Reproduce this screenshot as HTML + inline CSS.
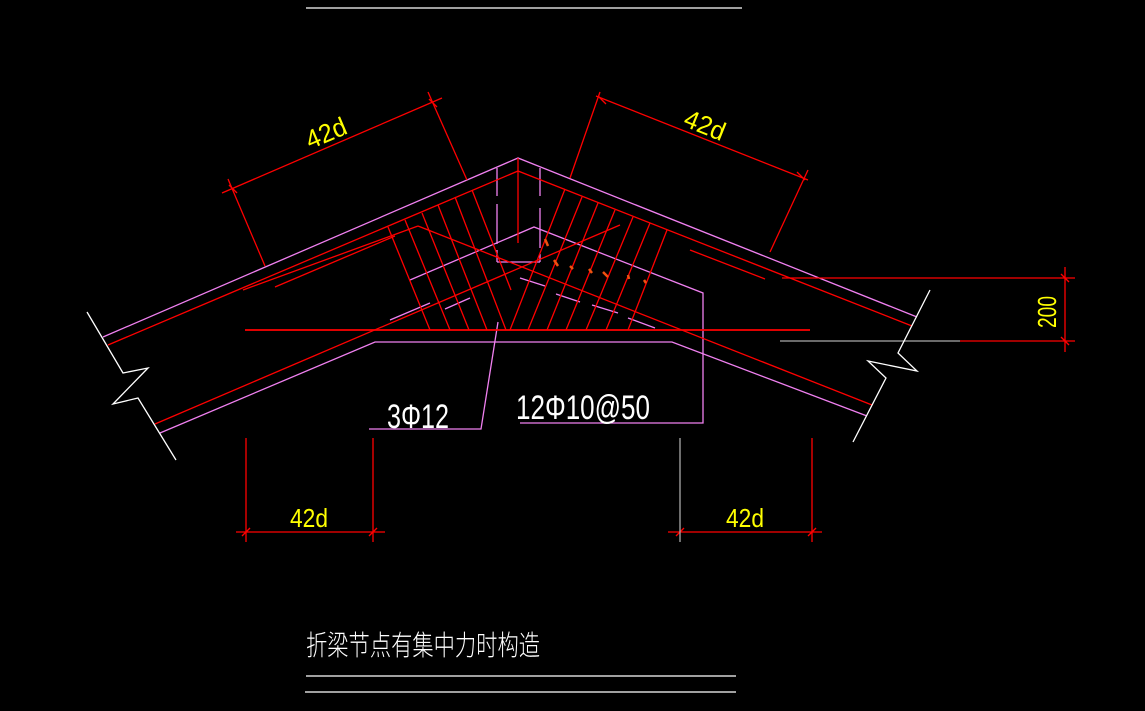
<!DOCTYPE html>
<html><head><meta charset="utf-8"><style>
html,body{margin:0;padding:0;background:#000;width:1145px;height:711px;overflow:hidden}
svg{display:block}
text{font-family:"Liberation Sans Narrow","Liberation Sans",sans-serif}
</style></head><body>
<svg width="1145" height="711" viewBox="0 0 1145 711" xmlns="http://www.w3.org/2000/svg">
<g fill="none" stroke-width="1.3">
<line x1="306" y1="8" x2="742" y2="8" stroke="#fff"/>
<line x1="306" y1="676" x2="736" y2="676" stroke="#fff"/>
<line x1="305" y1="692" x2="736" y2="692" stroke="#fff"/>

<polyline points="103,337 518,158 917,317" stroke="#f080f0"/>
<polyline points="160,433 375,342 672,342 867,416" stroke="#f080f0"/>
<polyline points="410,280 534,227 703,293 703,423 520,423" stroke="#f080f0"/>
<line x1="497" y1="168" x2="497" y2="262" stroke="#f080f0" stroke-dasharray="28,8,40,6"/>
<line x1="540" y1="168" x2="540" y2="262" stroke="#f080f0" stroke-dasharray="28,12,40,6"/>
<line x1="497" y1="262" x2="540" y2="262" stroke="#f080f0"/>
<line x1="390" y1="320" x2="430" y2="303" stroke="#f080f0"/>
<line x1="445" y1="309" x2="470" y2="298" stroke="#f080f0"/>
<line x1="520" y1="278" x2="545" y2="286" stroke="#f080f0"/>
<line x1="556" y1="294" x2="580" y2="302" stroke="#f080f0"/>
<line x1="592" y1="305" x2="618" y2="313" stroke="#f080f0"/>
<line x1="628" y1="318" x2="655" y2="328" stroke="#f080f0"/>
<polyline points="498,322 481,429 369,429" stroke="#f080f0"/>

<g stroke="#f00">
<polyline points="108,345 518,171 912,326"/>
<line x1="518" y1="158" x2="518" y2="243"/>
<line x1="243" y1="290" x2="418" y2="226"/>
<line x1="418" y1="226" x2="872" y2="405"/>
<line x1="155" y1="424" x2="620" y2="225"/>
<line x1="690" y1="250" x2="765" y2="279"/>
<line x1="275" y1="287" x2="395" y2="236"/>
<line x1="245" y1="330" x2="810" y2="330" stroke-width="1.8"/>
<line x1="388" y1="227" x2="430" y2="330"/>
<line x1="405" y1="220" x2="450" y2="330"/>
<line x1="422" y1="213" x2="469" y2="330"/>
<line x1="438" y1="205" x2="487" y2="330"/>
<line x1="455" y1="197" x2="506" y2="330"/>
<line x1="472" y1="190" x2="511" y2="290"/>
<line x1="565" y1="189" x2="510" y2="330"/>
<line x1="582" y1="197" x2="528" y2="330"/>
<line x1="598" y1="203" x2="547" y2="330"/>
<line x1="615" y1="210" x2="566" y2="330"/>
<line x1="633" y1="217" x2="586" y2="330"/>
<line x1="650" y1="223" x2="606" y2="330"/>
<line x1="667" y1="230" x2="628" y2="330"/>
<line x1="222" y1="193" x2="442" y2="98"/>
<line x1="228" y1="179" x2="265" y2="266"/>
<line x1="428" y1="92" x2="467" y2="180"/>
<line x1="596" y1="96" x2="808" y2="180"/>
<line x1="600" y1="92" x2="570" y2="178"/>
<line x1="808" y1="170" x2="770" y2="252"/>
<line x1="782" y1="278" x2="1075" y2="278"/>
<line x1="960" y1="341" x2="1075" y2="341"/>
<line x1="1065" y1="267" x2="1065" y2="352"/>
<line x1="246" y1="438" x2="246" y2="542"/>
<line x1="373" y1="438" x2="373" y2="542"/>
<line x1="236" y1="532" x2="385" y2="532"/>
<line x1="812" y1="438" x2="812" y2="542"/>
<line x1="668" y1="532" x2="822" y2="532"/>
<line x1="229" y1="185" x2="237" y2="193"/>
<line x1="429" y1="99" x2="437" y2="107"/>
<line x1="598" y1="96" x2="606" y2="104"/>
<line x1="797" y1="172" x2="805" y2="180"/>
<line x1="1061" y1="274" x2="1069" y2="282"/>
<line x1="1061" y1="337" x2="1069" y2="345"/>
<line x1="242" y1="536" x2="250" y2="528"/>
<line x1="369" y1="536" x2="377" y2="528"/>
<line x1="676" y1="536" x2="684" y2="528"/>
<line x1="808" y1="536" x2="816" y2="528"/>
</g>
<line x1="780" y1="341" x2="960" y2="341" stroke="#aaa"/>
<line x1="680" y1="438" x2="680" y2="542" stroke="#aaa"/>

<polyline points="87,312 123,373 148,368 113,404 138,398 176,460" stroke="#fff"/>
<polyline points="930,290 898,353 917,371 868,361 886,378 853,442" stroke="#fff"/>
</g>
<g stroke="#f05010" stroke-width="2.5" fill="none">
<path d="M545,239 l3,7"/><path d="M554,260 l4,6"/><path d="M570,266 l3,3"/>
<path d="M589,269 l3,4"/><path d="M603,272 l5,5"/><path d="M628,275 l1,4"/><path d="M644,280 l2,3"/>
</g>
<g fill="#ff0" font-size="26">
<text x="326" y="142" text-anchor="middle" transform="rotate(-23 326 133)" textLength="42" lengthAdjust="spacingAndGlyphs">42d</text>
<text x="705" y="134" text-anchor="middle" transform="rotate(22 705 125)" textLength="42" lengthAdjust="spacingAndGlyphs">42d</text>
<text x="309" y="527" text-anchor="middle" textLength="38" lengthAdjust="spacingAndGlyphs">42d</text>
<text x="745" y="527" text-anchor="middle" textLength="38" lengthAdjust="spacingAndGlyphs">42d</text>
<text x="1048" y="320" text-anchor="middle" transform="rotate(-90 1048 312)" textLength="32" lengthAdjust="spacingAndGlyphs">200</text>
</g>
<g fill="#fff" font-size="34">
<text x="387" y="428" textLength="62" lengthAdjust="spacingAndGlyphs">3Φ12</text>
<text x="516" y="419" textLength="134" lengthAdjust="spacingAndGlyphs">12Φ10@50</text>
</g>
<text x="306" y="655" fill="#fff" font-size="28" textLength="234" lengthAdjust="spacingAndGlyphs" style='font-family:"Liberation Sans","Noto Sans CJK SC",sans-serif;font-weight:300'>折梁节点有集中力时构造</text>
</svg>
</body></html>
